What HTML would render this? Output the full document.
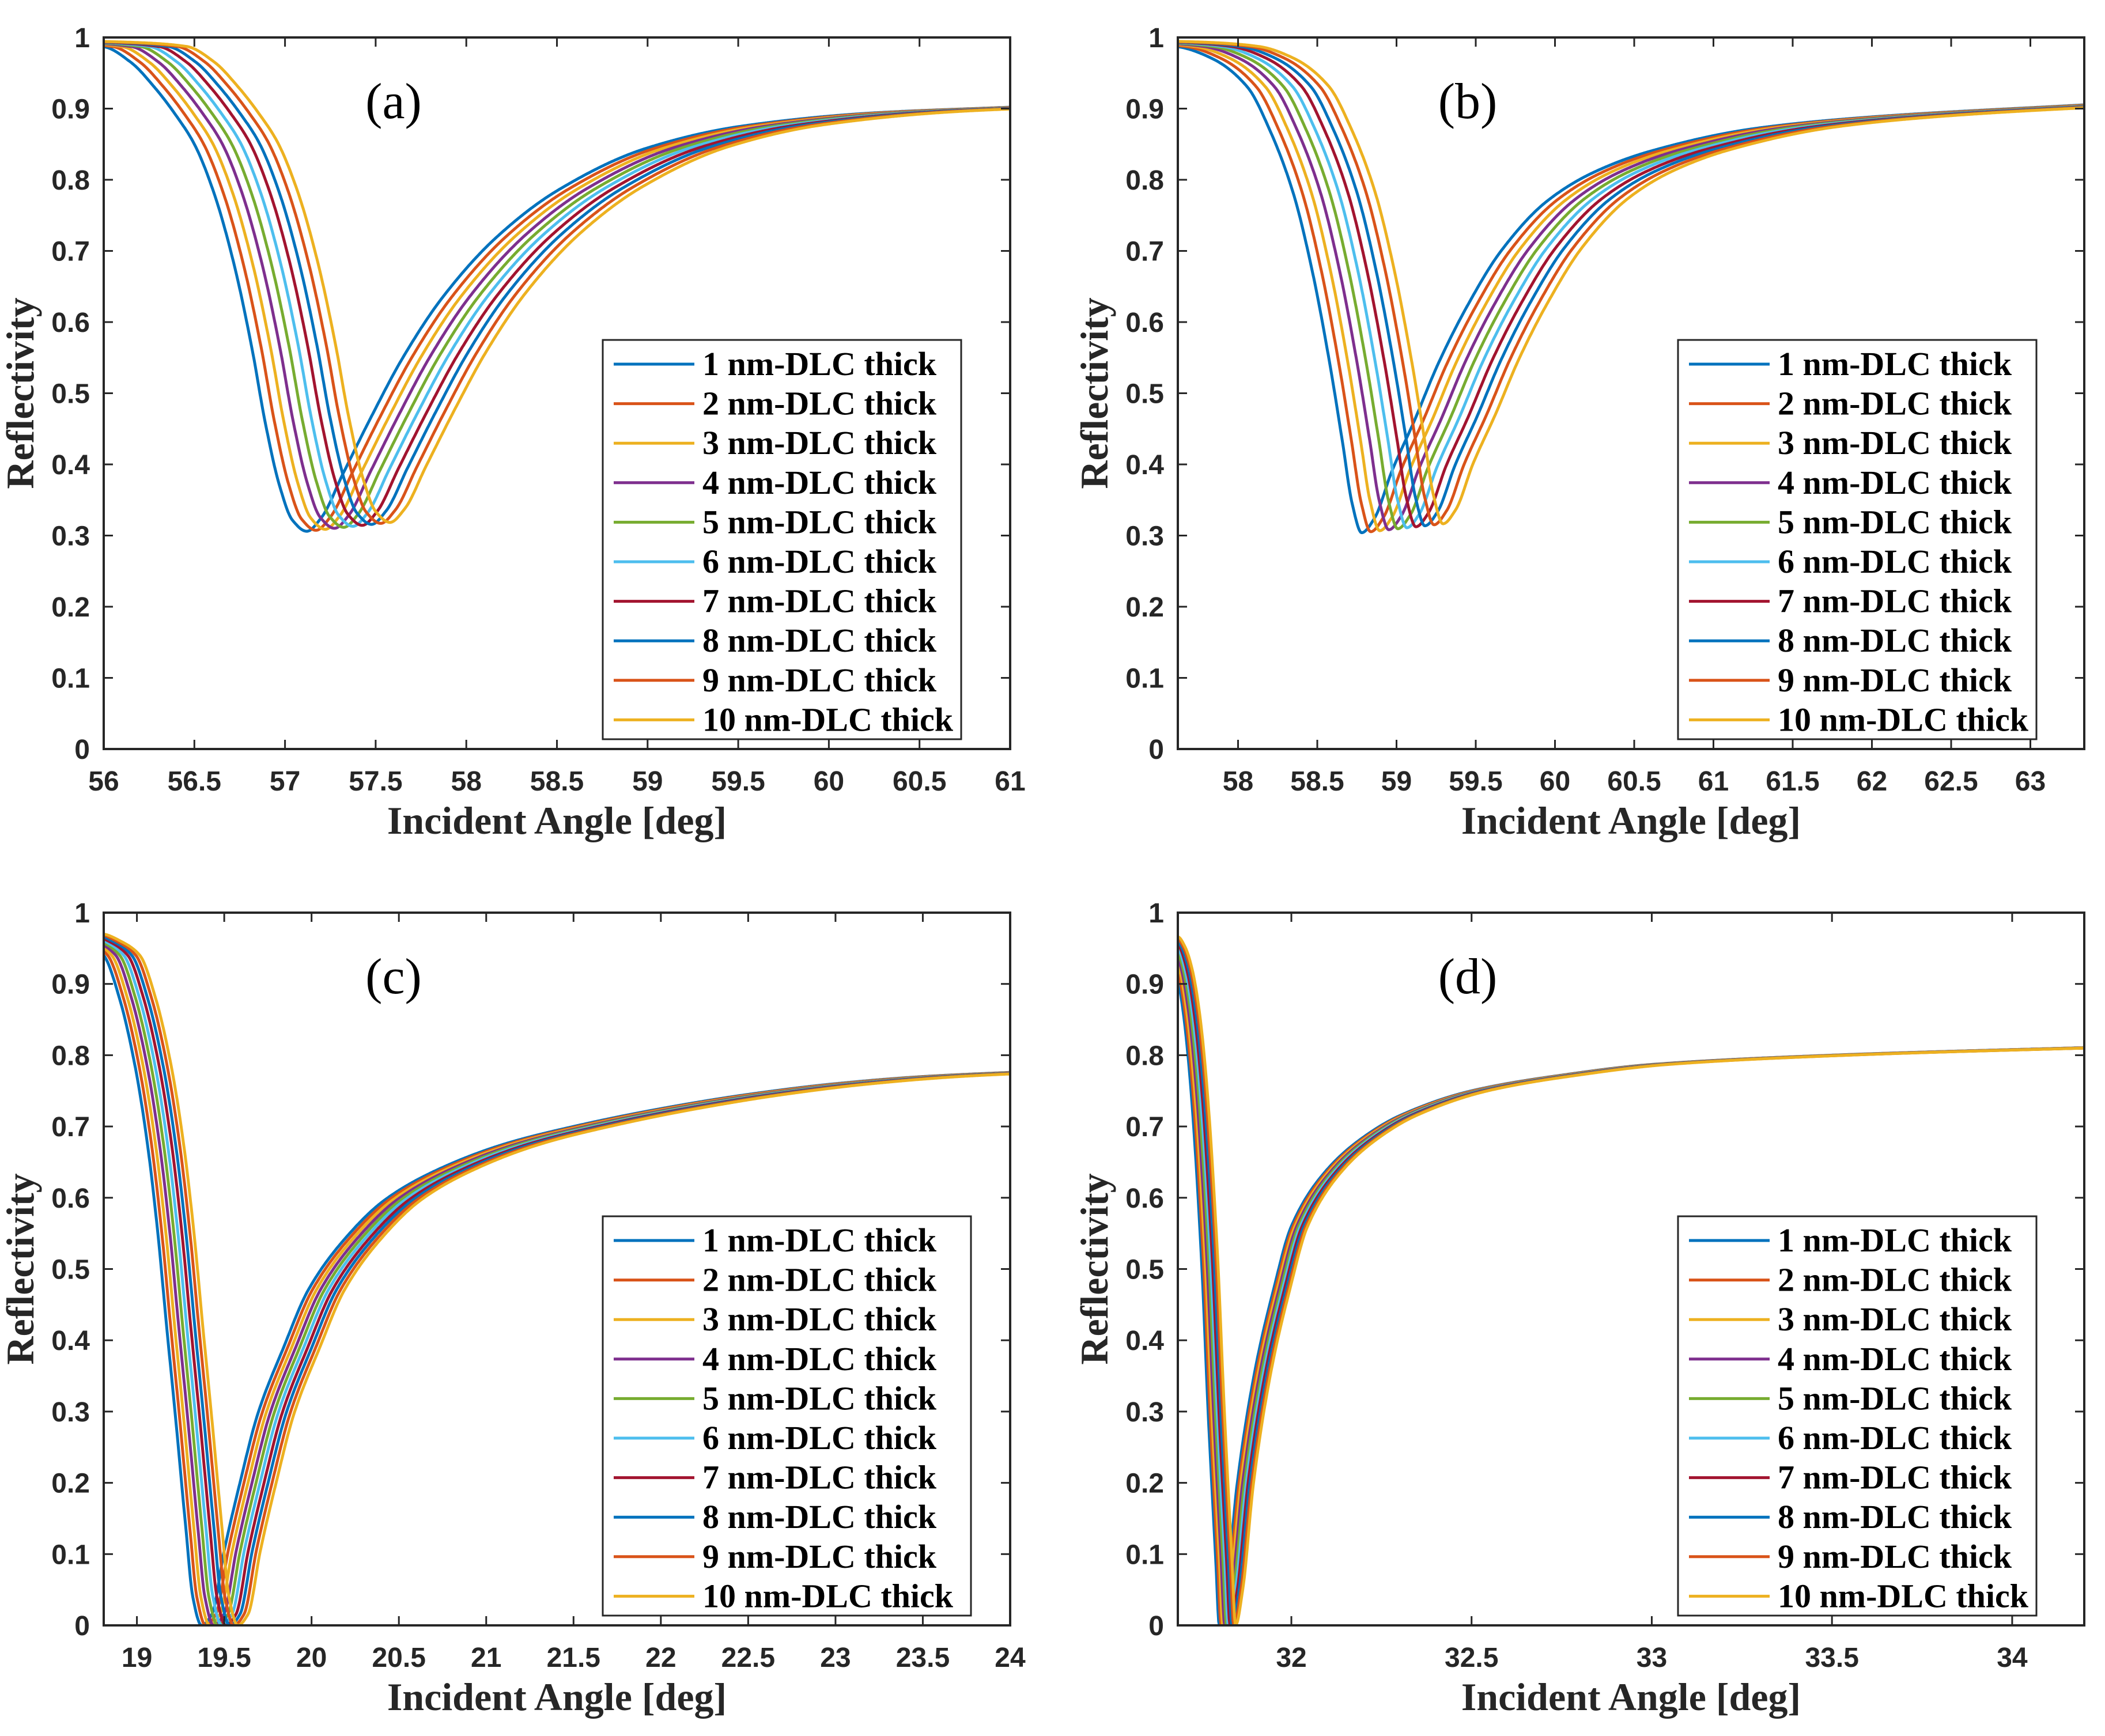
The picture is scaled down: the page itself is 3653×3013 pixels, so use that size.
<!DOCTYPE html>
<html><head><meta charset="utf-8"><style>
html,body{margin:0;padding:0;background:#fff}
svg{display:block}
</style></head><body>
<svg id="fig" width="3653" height="3013" viewBox="0 0 3653 3013" xmlns="http://www.w3.org/2000/svg"></svg>
<script>
// ---- data ----
const seriesNames = ["1 nm-DLC thick","2 nm-DLC thick","3 nm-DLC thick","4 nm-DLC thick","5 nm-DLC thick","6 nm-DLC thick","7 nm-DLC thick","8 nm-DLC thick","9 nm-DLC thick","10 nm-DLC thick"];
const seriesColors = ["#0072BD","#D95319","#EDB120","#7E2F8E","#77AC30","#4DBEEE","#A2142F","#0072BD","#D95319","#EDB120"];
const thickness = [1,2,3,4,5,6,7,8,9,10];

// panel (a)
const aAngles = [55.4,55.7,56.0,56.15,56.28,56.4,56.5,56.61,56.72,56.82,56.89,56.97,57.04,57.12,57.2,57.32,57.47,57.65,57.87,58.17,58.51,58.99,59.51,60.25,61.0];
const aRefl   = [0.995,0.993,0.987,0.965,0.93,0.89,0.85,0.78,0.68,0.56,0.46,0.37,0.322,0.306,0.325,0.387,0.464,0.55,0.635,0.72,0.786,0.844,0.875,0.894,0.902];
const aShift = 0.051, aLift = 0.0014;
const aXTicks = [56,56.5,57,57.5,58,58.5,59,59.5,60,60.5,61];

// panel (b)
const bAngles = [57.0,57.3,57.62,57.84,58.06,58.2,58.35,58.47,58.58,58.66,58.72,58.78,58.86,58.97,59.11,59.26,59.44,59.66,59.95,60.24,60.6,61.26,61.98,63.4];
const bRefl   = [0.995,0.993,0.987,0.97,0.93,0.87,0.78,0.67,0.54,0.43,0.345,0.304,0.324,0.39,0.46,0.54,0.62,0.70,0.77,0.81,0.84,0.872,0.888,0.906];
const bShift = 0.057, bLift = 0.0014;
const bXTicks = [58,58.5,59,59.5,60,60.5,61,61.5,62,62.5,63];

// panel (c)
const cAngles = [18.5,18.6,18.7,18.81,18.9,18.99,19.06,19.12,19.17,19.22,19.28,19.32,19.37,19.43,19.5,19.59,19.69,19.84,19.98,20.2,20.42,20.71,21.1,21.5,22.0,22.5,23.0,23.5,24.1];
const cRefl   = [0.972,0.97,0.96,0.94,0.88,0.784,0.676,0.55,0.42,0.295,0.137,0.04,0.0,0.016,0.105,0.2,0.295,0.39,0.47,0.545,0.597,0.638,0.675,0.70,0.725,0.745,0.76,0.77,0.777];
const cShift = 0.023, cLift = 0;
const cXTicks = [19,19.5,20,20.5,21,21.5,22,22.5,23,23.5,24];

// panel (d)
const dAngles = [31.55,31.6,31.64,31.66,31.68,31.7,31.72,31.75,31.77,31.79,31.8,31.82,31.85,31.9,31.95,32.0,32.1,32.2,32.3,32.5,32.75,33.0,33.5,34.3];
const dRefl   = [0.95,0.962,0.966,0.952,0.92,0.86,0.76,0.52,0.29,0.094,0.0,0.05,0.2,0.36,0.47,0.56,0.64,0.685,0.715,0.75,0.772,0.787,0.80,0.812];
const dShift = 0.005, dLift = 0;
const dXTicks = [32,32.5,33,33.5,34];

const yTicks = [0,0.1,0.2,0.3,0.4,0.5,0.6,0.7,0.8,0.9,1];
const yTickLabels = ["0","0.1","0.2","0.3","0.4","0.5","0.6","0.7","0.8","0.9","1"];

// ---- layout ----
const NS = "http://www.w3.org/2000/svg";
const svg = document.getElementById('fig');
function mk(tag, attrs, parent){
  const e = document.createElementNS(NS, tag);
  for (const k in attrs) e.setAttribute(k, attrs[k]);
  (parent||svg).appendChild(e);
  return e;
}
const panels = [
  {id:"a", L:180, T:65, W:1573, H:1235, xmin:56, xmax:61, ang:aAngles, r:aRefl, shift:aShift, lift:aLift, ticks:aXTicks, legX:1046, legW:622},
  {id:"b", L:2044, T:65, W:1573, H:1235, xmin:57.62, xmax:63.34, ang:bAngles, r:bRefl, shift:bShift, lift:bLift, ticks:bXTicks, legX:2912, legW:622},
  {id:"c", L:180, T:1584, W:1573, H:1237, xmin:18.81, xmax:24, ang:cAngles, r:cRefl, shift:cShift, lift:cLift, ticks:cXTicks, legX:1046, legW:639},
  {id:"d", L:2044, T:1584, W:1573, H:1237, xmin:31.685, xmax:34.2, ang:dAngles, r:dRefl, shift:dShift, lift:dLift, ticks:dXTicks, legX:2912, legW:622}
];

function monotone(xs, ys){
  const n = xs.length, d = [], m = [];
  for (let i=0;i<n-1;i++) d.push((ys[i+1]-ys[i])/(xs[i+1]-xs[i]));
  m[0] = d[0]; m[n-1] = d[n-2];
  for (let i=1;i<n-1;i++){
    if (d[i-1]*d[i] <= 0) m[i] = 0;
    else { const w1 = 2*(xs[i+1]-xs[i])+(xs[i]-xs[i-1]), w2 = (xs[i+1]-xs[i])+2*(xs[i]-xs[i-1]);
      m[i] = (w1+w2)/(w1/d[i-1]+w2/d[i]); }
  }
  return function(x){
    if (x <= xs[0]) return ys[0];
    if (x >= xs[n-1]) return ys[n-1];
    let i = 0; while (x > xs[i+1]) i++;
    const h = xs[i+1]-xs[i], t = (x-xs[i])/h, t2=t*t, t3=t2*t;
    return (2*t3-3*t2+1)*ys[i] + (t3-2*t2+t)*h*m[i] + (-2*t3+3*t2)*ys[i+1] + (t3-t2)*h*m[i+1];
  };
}

panels.forEach(p => {
  const g = mk('g', {});
  
  
  const xs = v => p.L + (v - p.xmin) / (p.xmax - p.xmin) * p.W;
  const ys = v => p.T + p.H - v * p.H;
  const B = p.T + p.H;
  const f = monotone(p.ang, p.r);

  const defs = mk('defs', {}, g);
  const cp = mk('clipPath', {id:'clip-'+p.id}, defs);
  mk('rect', {x:p.L, y:p.T, width:p.W, height:p.H}, cp);

  const sg = mk('g', {'clip-path':'url(#clip-'+p.id+')'}, g);
  thickness.forEach((t, i) => {
    const off = (t - 1) * p.shift;
    const lift = (t - 1) * p.lift;
    let d = "";
    const N = 1200;
    for (let k=0;k<=N;k++){
      const x = p.xmin + (p.xmax - p.xmin) * k / N;
      const r = f(x - off);
      const v = r + lift * (1 - r) / 0.7;
      d += (k ? "L" : "M") + xs(x).toFixed(1) + "," + ys(v).toFixed(1);
    }
    const path = mk('path', {d:d, fill:'none', stroke:seriesColors[i], 'stroke-width':5, 'stroke-linejoin':'round'}, sg);
    
    
  });

  const box = mk('rect', {x:p.L, y:p.T, width:p.W, height:p.H, fill:'none', stroke:'#262626', 'stroke-width':4}, g);
  
  

  p.ticks.forEach(v => {
    const x = xs(v);
    mk('line', {x1:x, y1:B, x2:x, y2:B-16, stroke:'#262626', 'stroke-width':3}, g);
    mk('line', {x1:x, y1:p.T, x2:x, y2:p.T+16, stroke:'#262626', 'stroke-width':3}, g);
    const tl = mk('text', {x:x, y:B+72, 'text-anchor':'middle', 'font-family':'Liberation Sans, Arial, sans-serif', 'font-weight':'bold', 'font-size':48, fill:'#262626'}, g);
    tl.textContent = String(v);
    
    
  });
  yTicks.forEach((v, k) => {
    const y = ys(v);
    mk('line', {x1:p.L, y1:y, x2:p.L+16, y2:y, stroke:'#262626', 'stroke-width':3}, g);
    mk('line', {x1:p.L+p.W, y1:y, x2:p.L+p.W-16, y2:y, stroke:'#262626', 'stroke-width':3}, g);
    const tl = mk('text', {x:p.L-24, y:y+17, 'text-anchor':'end', 'font-family':'Liberation Sans, Arial, sans-serif', 'font-weight':'bold', 'font-size':48, fill:'#262626'}, g);
    tl.textContent = yTickLabels[k];
    
    
  });

  const xt = mk('text', {x:p.L+p.W/2, y:B+147, 'text-anchor':'middle', 'font-family':'Liberation Serif, serif', 'font-weight':'bold', 'font-size':68, fill:'#262626'}, g);
  xt.textContent = 'Incident Angle [deg]';
  
  
  const yx = p.L - 122, yy = p.T + p.H/2;
  const yt = mk('text', {x:yx, y:yy, transform:'rotate(-90 '+yx+' '+yy+')', 'text-anchor':'middle', 'font-family':'Liberation Serif, serif', 'font-weight':'bold', 'font-size':68, fill:'#262626'}, g);
  yt.textContent = 'Reflectivity';
  
  

  const pl = mk('text', {x:p.L+503, y:p.T+140, 'text-anchor':'middle', 'font-family':'Liberation Serif, serif', 'font-size':88, fill:'#000'}, g);
  pl.textContent = '(' + p.id + ')';
  
  

  const lg = mk('g', {}, g);
  
  
  const legTop = B - 17 - 693;
  mk('rect', {x:p.legX, y:legTop, width:p.legW, height:693, fill:'#fff', stroke:'#262626', 'stroke-width':3}, lg);
  seriesNames.forEach((n, i) => {
    const cy = legTop + 42 + i * 68.6;
    const e = mk('g', {}, lg);
    
    
    mk('line', {x1:p.legX+19, y1:cy, x2:p.legX+159, y2:cy, stroke:seriesColors[i], 'stroke-width':5}, e);
    const tx = mk('text', {x:p.legX+173, y:cy+19, 'font-family':'Liberation Serif, serif', 'font-weight':'bold', 'font-size':58, fill:'#000'}, e);
    tx.textContent = n;
  });
});
</script>
</body></html>
